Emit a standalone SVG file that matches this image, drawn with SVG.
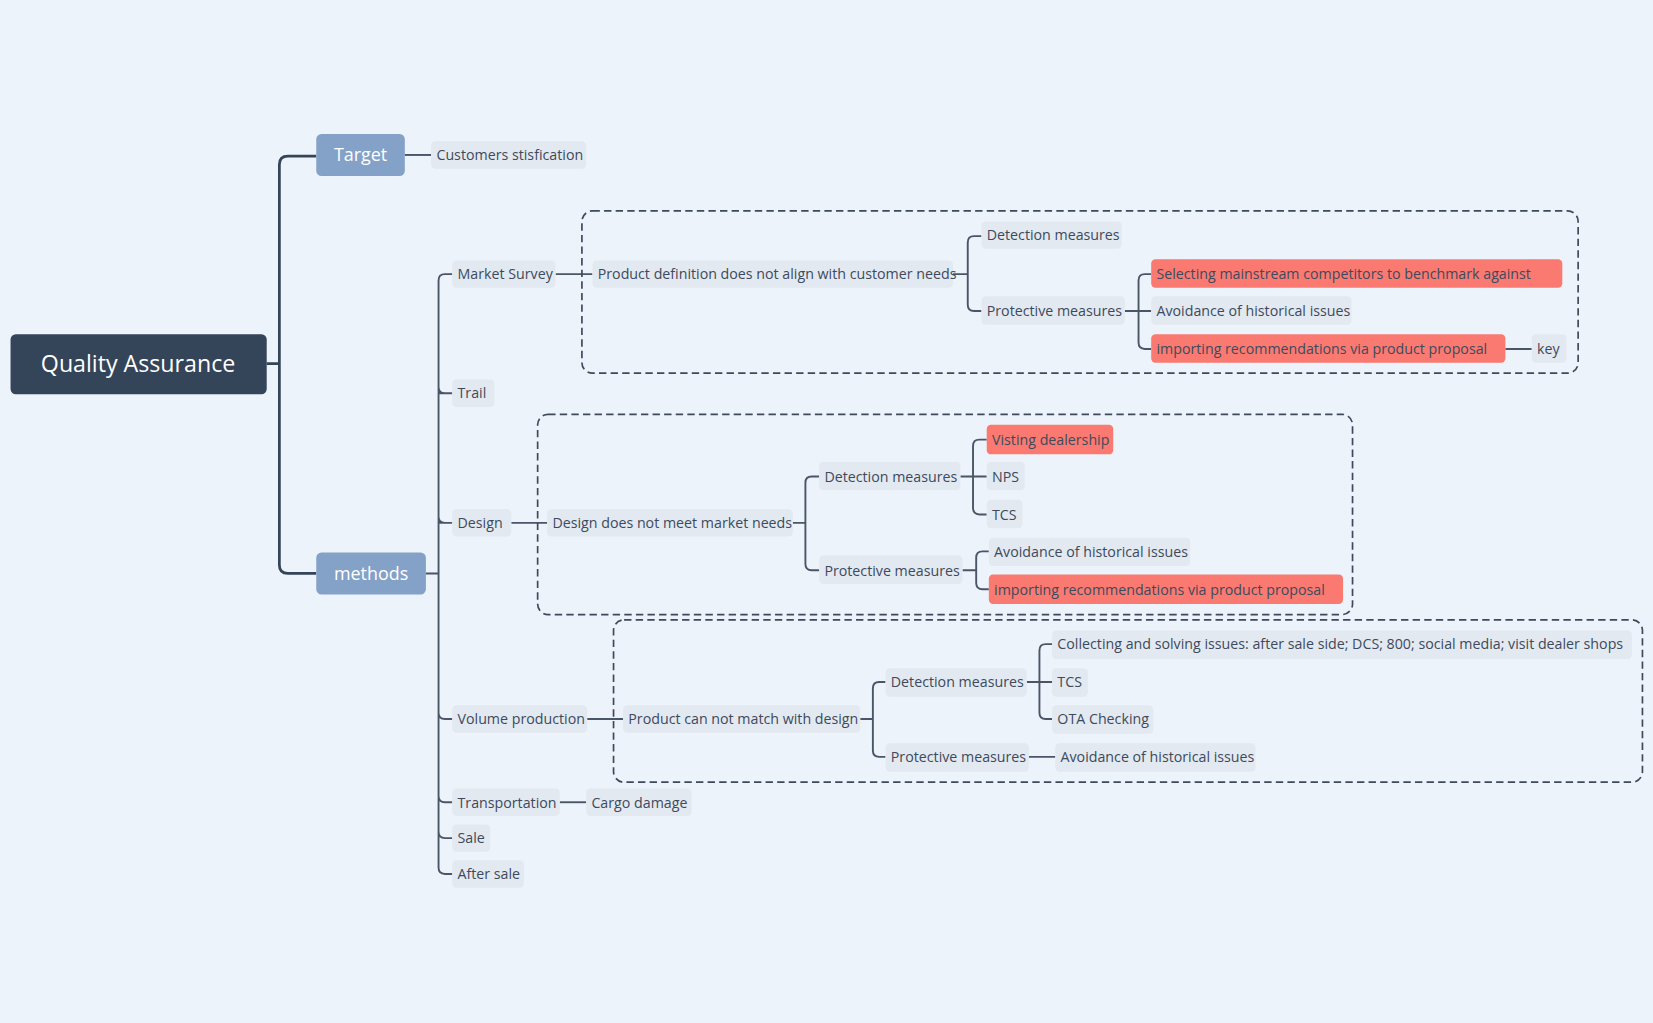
<svg xmlns="http://www.w3.org/2000/svg" width="1653" height="1023" viewBox="0 0 1653 1023">
<style>
.n{fill:#E3E9F1}
.r{fill:#FA7A72}
.t{font-family:"Open Sans","Liberation Sans",sans-serif;font-size:13.5px;fill:#3d4a5c}
.w{font-family:"Open Sans","Liberation Sans",sans-serif;fill:#fff;text-anchor:middle}
.c{fill:none;stroke:#4a5568;stroke-width:1.8}
.m{fill:none;stroke:#344459;stroke-width:2.6}
.d{fill:none;stroke:#3e4a5c;stroke-width:1.6;stroke-dasharray:7,4}
</style>
<rect width="1653" height="1023" fill="#EDF3FA"/>
<g transform="scale(1.0542)">
<g id="connectors">
<path class="m" d="M253,345H265M265,345V156Q265,148 273,148H300M265,345V536Q265,544 273,544H300"/>
<path class="c" d="M384,147H409"/>
<path class="c" d="M404,544H416M416,544V266Q416,260 422,260H429M416,373Q416,373 429,373M416,496H429M416,544V823Q416,829 422,829H429M416,676Q416,682 422,682H429M416,755Q416,761 422,761H429M416,789Q416,795 422,795H429M416,367Q416,373 422,373M416,490Q416,496 422,496"/>
<path class="c" d="M527,260H562M904,260H918M918,260V230Q918,224 924,224H931M918,260V289Q918,295 924,295H931"/>
<path class="c" d="M1067,295H1080M1080,295V266Q1080,260 1086,260H1092M1080,295H1092M1080,295V325Q1080,331 1086,331H1092M1428,331H1453"/>
<path class="c" d="M485,496H519M752,496H764M764,496V458Q764,452 770,452H777M764,496V535Q764,541 770,541H777"/>
<path class="c" d="M911,452H923M923,452V423Q923,417 929,417H936M923,452H936M923,452V482Q923,488 929,488H936"/>
<path class="c" d="M913,541H926M926,541V529Q926,523 932,523H938M926,541V553Q926,559 932,559H938"/>
<path class="c" d="M557,682H591M816,682H828M828,682V653Q828,647 834,647H840M828,682V712Q828,718 834,718H840"/>
<path class="c" d="M974,647H986M986,647V617Q986,611 992,611H998M986,647H998M986,647V676Q986,682 992,682H998M976,718H1001"/>
<path class="c" d="M531,761H556"/>
</g>
<rect class="d" x="552" y="200" width="945" height="154" rx="10"/>
<rect class="d" x="510" y="393" width="773" height="190" rx="10"/>
<rect class="d" x="582" y="588" width="976" height="154" rx="10"/>
<g id="root"><rect x="10" y="317" width="243" height="57" rx="5" fill="#344459"/><text class="w" x="131" y="353" font-size="22">Quality Assurance</text></g>
<g id="target"><rect x="300" y="127" width="84" height="40" rx="5" fill="#84A1C8"/><text class="w" x="342" y="153" font-size="17">Target</text></g>
<g id="methods"><rect x="300" y="524" width="104" height="40" rx="5" fill="#84A1C8"/><text class="w" x="352" y="550" font-size="17">methods</text></g>
<g id="cust"><rect class="n" x="409" y="134" width="147" height="26" rx="4"/><text class="t" x="414" y="152">Customers stisfication</text></g>
<g id="ms"><rect class="n" x="429" y="247" width="98" height="26" rx="4"/><text class="t" x="434" y="265">Market Survey</text></g>
<g id="trail"><rect class="n" x="429" y="360" width="40" height="26" rx="4"/><text class="t" x="434" y="378">Trail</text></g>
<g id="design"><rect class="n" x="429" y="483" width="56" height="26" rx="4"/><text class="t" x="434" y="501">Design</text></g>
<g id="vp"><rect class="n" x="429" y="669" width="128" height="26" rx="4"/><text class="t" x="434" y="687">Volume production</text></g>
<g id="tr"><rect class="n" x="429" y="748" width="102" height="26" rx="4"/><text class="t" x="434" y="766">Transportation</text></g>
<g id="sale"><rect class="n" x="429" y="782" width="36" height="26" rx="4"/><text class="t" x="434" y="800">Sale</text></g>
<g id="after"><rect class="n" x="429" y="816" width="68" height="26" rx="4"/><text class="t" x="434" y="834">After sale</text></g>
<g id="cargo"><rect class="n" x="556" y="748" width="100" height="26" rx="4"/><text class="t" x="561" y="766">Cargo damage</text></g>
<g id="pd"><rect class="n" x="562" y="247" width="342" height="26" rx="4"/><text class="t" x="567" y="265">Product definition does not align with customer needs</text></g>
<g id="dm1"><rect class="n" x="931" y="210" width="133" height="26" rx="4"/><text class="t" x="936" y="228">Detection measures</text></g>
<g id="pm1"><rect class="n" x="931" y="281" width="136" height="27" rx="4"/><text class="t" x="936" y="300">Protective measures</text></g>
<g id="sel"><rect class="r" x="1092" y="246" width="390" height="27" rx="4"/><text class="t" x="1097" y="265">Selecting mainstream competitors to benchmark against</text></g>
<g id="av1"><rect class="n" x="1092" y="281" width="190" height="27" rx="4"/><text class="t" x="1097" y="300">Avoidance of historical issues</text></g>
<g id="imp1"><rect class="r" x="1092" y="317" width="336" height="27" rx="4"/><text class="t" x="1097" y="336">importing recommendations via product proposal</text></g>
<g id="key"><rect class="n" x="1453" y="317" width="33" height="27" rx="4"/><text class="t" x="1458" y="336">key</text></g>
<g id="dd"><rect class="n" x="519" y="483" width="233" height="26" rx="4"/><text class="t" x="524" y="501">Design does not meet market needs</text></g>
<g id="dm2"><rect class="n" x="777" y="438" width="134" height="27" rx="4"/><text class="t" x="782" y="457">Detection measures</text></g>
<g id="pm2"><rect class="n" x="777" y="527" width="136" height="27" rx="4"/><text class="t" x="782" y="546">Protective measures</text></g>
<g id="vis"><rect class="r" x="936" y="403" width="120" height="28" rx="4"/><text class="t" x="941" y="422">Visting dealership</text></g>
<g id="nps"><rect class="n" x="936" y="438" width="36" height="27" rx="4"/><text class="t" x="941" y="457">NPS</text></g>
<g id="tcs1"><rect class="n" x="936" y="474" width="34" height="27" rx="4"/><text class="t" x="941" y="493">TCS</text></g>
<g id="av2"><rect class="n" x="938" y="510" width="191" height="27" rx="4"/><text class="t" x="943" y="528">Avoidance of historical issues</text></g>
<g id="imp2"><rect class="r" x="938" y="545" width="336" height="28" rx="4"/><text class="t" x="943" y="564">importing recommendations via product proposal</text></g>
<g id="pc"><rect class="n" x="591" y="669" width="225" height="26" rx="4"/><text class="t" x="596" y="687">Product can not match with design</text></g>
<g id="dm3"><rect class="n" x="840" y="634" width="134" height="27" rx="4"/><text class="t" x="845" y="652">Detection measures</text></g>
<g id="pm3"><rect class="n" x="840" y="705" width="136" height="27" rx="4"/><text class="t" x="845" y="723">Protective measures</text></g>
<g id="col"><rect class="n" x="998" y="598" width="550" height="27" rx="4"/><text class="t" x="1003" y="616">Collecting and solving issues: after sale side; DCS; 800; social media; visit dealer shops</text></g>
<g id="tcs2"><rect class="n" x="998" y="634" width="34" height="27" rx="4"/><text class="t" x="1003" y="652">TCS</text></g>
<g id="ota"><rect class="n" x="998" y="669" width="96" height="27" rx="4"/><text class="t" x="1003" y="687">OTA Checking</text></g>
<g id="av3"><rect class="n" x="1001" y="705" width="190" height="27" rx="4"/><text class="t" x="1006" y="723">Avoidance of historical issues</text></g>
</g>
</svg>
